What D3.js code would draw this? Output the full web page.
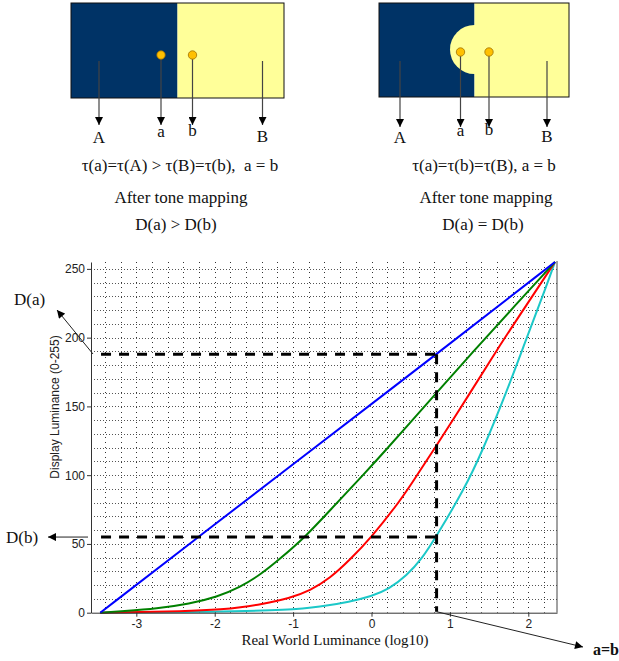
<!DOCTYPE html>
<html lang="en">
<head>
<meta charset="UTF-8">
<title>tone-mapping-curves</title>
<style>
  body { margin: 0; background: #fff; }
  .tick text { font-family: "Liberation Sans", Arial, sans-serif; font-size: 12px; fill: #222; }
  .serif { font-family: "Liberation Serif", "Times New Roman", serif; fill: #111; }
</style>
</head>
<body>
<div id="container"></div>
<script src="https://cdn.jsdelivr.net/npm/d3@7/dist/d3.min.js"></script>
<script>
// curve samples: [log10 luminance, display value]
var blueCurve = [[-3.46, 0], [-2.21, 55], [-1.0, 108], [0.83, 188], [2.34, 255]];
var greenCurve = [[-3.46, 0], [-3.17, 1.2], [-2.74, 3], [-2.32, 6.5], [-1.97, 11.5], [-1.68, 18.5],
  [-1.42, 27.5], [-1.17, 39], [-0.83, 56], [-0.57, 72], [-0.06, 103], [0.17, 117.5],
  [0.49, 138], [0.83, 160], [1.30, 190], [1.81, 222], [2.34, 255]];
var redCurve = [[-3.46, 0], [-2.34, 1], [-1.89, 2.5], [-1.68, 3.8], [-1.42, 6], [-1.04, 10.5],
  [-0.785, 16], [-0.53, 25], [-0.274, 38.5], [0.0, 55], [0.32, 78], [0.49, 92],
  [0.80, 119], [1.256, 159.5], [1.597, 191], [1.98, 224], [2.34, 255]];
var cyanCurve = [[-3.46, 0], [-2.0, 0.6], [-1.04, 2], [-0.66, 4.2], [-0.274, 8], [0.0, 12],
  [0.22, 17], [0.45, 27], [0.64, 39], [0.82, 54.8], [1.19, 90.5], [1.41, 117], [1.72, 160],
  [1.98, 200], [2.235, 238], [2.34, 255]];
var seriesNames = ["blue", "green", "red", "cyan"];
var seriesColors = ["#0000ff", "#008000", "#ff0000", "#1cc8c8"];
var xTicks = [-3, -2, -1, 0, 1, 2];
var yTicks = [0, 50, 100, 150, 200, 250];
var guideX = 0.83;          // a = b
var guideLevels = [188, 55]; // D(a), D(b)
var guideStart = -3.45;

var width = 619, height = 661;

var svg = d3.select("#container").append("svg")
    .attr("width", width)
    .attr("height", height);

var defs = svg.append("defs");
defs.append("marker")
    .attr("id", "head")
    .attr("viewBox", "0 0 10 10")
    .attr("refX", 10).attr("refY", 5)
    .attr("markerWidth", 9).attr("markerHeight", 8)
    .attr("markerUnits", "userSpaceOnUse")
    .attr("orient", "auto")
  .append("path")
    .attr("d", "M0,0L10,5L0,10z")
    .attr("fill", "#000");

// ---------- top illustrations ----------
function panel(p) {
  var g = svg.append("g");
  g.append("rect").attr("x", p.x0).attr("y", p.y0).attr("width", p.split - p.x0).attr("height", p.y1 - p.y0)
      .attr("fill", "#003366");
  g.append("rect").attr("x", p.split).attr("y", p.y0).attr("width", p.x1 - p.split).attr("height", p.y1 - p.y0)
      .attr("fill", "#ffff99");
  if (p.bulge) {
    g.append("circle").attr("cx", p.split).attr("cy", p.bulge.cy).attr("r", p.bulge.r).attr("fill", "#ffff99");
  }
  g.append("rect").attr("x", p.x0).attr("y", p.y0).attr("width", p.x1 - p.x0).attr("height", p.y1 - p.y0)
      .attr("fill", "none").attr("stroke", "#111").attr("stroke-width", 1);

  p.arrows.forEach(function(a) {
    g.append("line")
        .attr("x1", a.x).attr("y1", a.from).attr("x2", a.x).attr("y2", p.tip)
        .attr("stroke", "#444").attr("stroke-width", 1.2)
        .attr("marker-end", "url(#head)");
    g.append("text").attr("class", "serif")
        .attr("x", a.x).attr("y", a.ly)
        .attr("text-anchor", "middle")
        .attr("font-size", 17)
        .text(a.label);
  });
  p.dots.forEach(function(d) {
    g.append("circle").attr("cx", d[0]).attr("cy", d[1]).attr("r", 4.2)
        .attr("fill", "#ffc000").attr("stroke", "#a07000").attr("stroke-width", 0.8);
  });
  p.lines.forEach(function(t, i) {
    g.append("text").attr("class", "serif")
        .attr("x", p.cx[i]).attr("y", [171, 203, 230][i])
        .attr("text-anchor", "middle")
        .attr("font-size", 17)
        .text(t);
  });
}

panel({
  x0: 71, x1: 284, y0: 3, y1: 98, split: 177.5, tip: 125,
  dots: [[161, 55], [192.5, 55]],
  arrows: [
    {x: 99, from: 61, label: "A", ly: 143},
    {x: 161, from: 59, label: "a", ly: 137},
    {x: 192.5, from: 59, label: "b", ly: 136},
    {x: 262.5, from: 61, label: "B", ly: 142}
  ],
  lines: ["\u03c4(a)=\u03c4(A) > \u03c4(B)=\u03c4(b),\u00a0 a = b", "After tone mapping", "D(a) > D(b)"],
  cx: [180, 181, 176]
});

panel({
  x0: 379, x1: 569, y0: 3, y1: 97, split: 474.5, tip: 127,
  bulge: {cy: 49.5, r: 24.5},
  dots: [[460.5, 52], [489, 52]],
  arrows: [
    {x: 400, from: 61, label: "A", ly: 143},
    {x: 460.5, from: 56, label: "a", ly: 136},
    {x: 489, from: 56, label: "b", ly: 135},
    {x: 547, from: 61, label: "B", ly: 142}
  ],
  lines: ["\u03c4(a)=\u03c4(b)=\u03c4(B), a = b", "After tone mapping", "D(a) = D(b)"],
  cx: [484, 486, 483]
});

// ---------- chart ----------
var x = d3.scaleLinear().domain([-3.578, 2.366]).range([91, 557]);
var y = d3.scaleLinear().domain([0, 255]).range([612.7, 262]);

var grid = svg.append("g").attr("stroke-width", 1);

grid.selectAll("line.v")
    .data(x.ticks(30).filter(function(d) { return x(d) > 92 && x(d) < 556; }))
    .enter().append("line")
    .attr("class", "v")
    .attr("stroke", "#333")
    .attr("stroke-dasharray", "1,4")
    .attr("x1", function(d) { return Math.round(x(d)) + 0.5; })
    .attr("x2", function(d) { return Math.round(x(d)) + 0.5; })
    .attr("y1", y(255)).attr("y2", y(0));

grid.selectAll("line.h")
    .data(y.ticks(25).filter(function(d) { return d > 0; }))
    .enter().append("line")
    .attr("class", "h")
    .attr("stroke", "#555")
    .attr("stroke-dasharray", "1,2")
    .attr("x1", x.range()[0]).attr("x2", x.range()[1])
    .attr("y1", function(d) { return Math.round(y(d)) + 0.5; })
    .attr("y2", function(d) { return Math.round(y(d)) + 0.5; });

var line = d3.line()
    .x(function(d) { return x(d[0]); })
    .y(function(d) { return y(d[1]); })
    .curve(d3.curveBasis);

var curves = [blueCurve, greenCurve, redCurve, cyanCurve];
// draw cyan first so the others sit over it along the bottom
[3, 2, 1, 0].forEach(function(i) {
  svg.append("path")
      .datum(curves[i])
      .attr("class", "curve " + seriesNames[i])
      .attr("fill", "none")
      .attr("stroke", seriesColors[i])
      .attr("stroke-width", 2)
      .attr("d", line);
});

// dashed guides
var guides = svg.append("g")
    .attr("stroke", "#000")
    .attr("stroke-width", 3)
    .attr("stroke-dasharray", "10,8")
    .attr("fill", "none");

guideLevels.forEach(function(v) {
  guides.append("line")
      .attr("x1", x(guideStart)).attr("x2", x(guideX))
      .attr("y1", y(v)).attr("y2", y(v));
});
guides.append("line")
    .attr("x1", x(guideX)).attr("x2", x(guideX))
    .attr("y1", y(guideLevels[0])).attr("y2", y(0) - 1);

// axes
var xAxis = svg.append("g")
    .attr("transform", "translate(0," + y(0) + ")")
    .call(d3.axisBottom(x).tickValues(xTicks).tickSize(4).tickSizeOuter(0).tickPadding(3)
      .tickFormat(d3.format("d")));
var yAxis = svg.append("g")
    .attr("transform", "translate(" + x.range()[0] + ",0)")
    .call(d3.axisLeft(y).tickValues(yTicks).tickSize(4).tickSizeOuter(0).tickPadding(2));
[xAxis, yAxis].forEach(function(a) {
  a.select(".domain").attr("stroke", "#333");
  a.selectAll(".tick line").attr("stroke", "#333");
  a.selectAll(".tick text").attr("font-family", null).attr("font-size", null);
});
xAxis.selectAll(".tick text").text(function(d) { return d < 0 ? "-" + Math.abs(d) : d; });

svg.append("line")
    .attr("x1", x.range()[1]).attr("x2", x.range()[1])
    .attr("y1", y(255) - 1).attr("y2", y(0))
    .attr("stroke", "#444");

svg.append("text")
    .attr("transform", "translate(55,407) rotate(-90)")
    .attr("text-anchor", "middle")
    .attr("dy", "0.35em")
    .attr("font-family", "Liberation Sans, Arial, sans-serif")
    .attr("font-size", 12)
    .attr("fill", "#222")
    .text("Display Luminance (0-255)");

svg.append("text").attr("class", "serif")
    .attr("x", 335).attr("y", 645)
    .attr("text-anchor", "middle")
    .attr("font-size", 15)
    .text("Real World Luminance (log10)");

// annotation arrows
var notes = [
  {x1: 93, y1: 354, x2: 57, y2: 310},
  {x1: 88, y1: y(guideLevels[1]), x2: 48, y2: y(guideLevels[1])},
  {x1: x(guideX), y1: y(0) - 1, x2: 583, y2: 647}
];
notes.forEach(function(n) {
  svg.append("line")
      .attr("x1", n.x1).attr("y1", n.y1).attr("x2", n.x2).attr("y2", n.y2)
      .attr("stroke", "#222").attr("stroke-width", 1)
      .attr("marker-end", "url(#head)");
});

svg.append("text").attr("class", "serif")
    .attr("x", 14).attr("y", 305).attr("font-size", 17).text("D(a)");
svg.append("text").attr("class", "serif")
    .attr("x", 6).attr("y", 543).attr("font-size", 17).text("D(b)");
svg.append("text").attr("class", "serif")
    .attr("x", 593).attr("y", 655).attr("font-size", 16).attr("font-weight", "bold").text("a=b");
</script>
</body>
</html>
